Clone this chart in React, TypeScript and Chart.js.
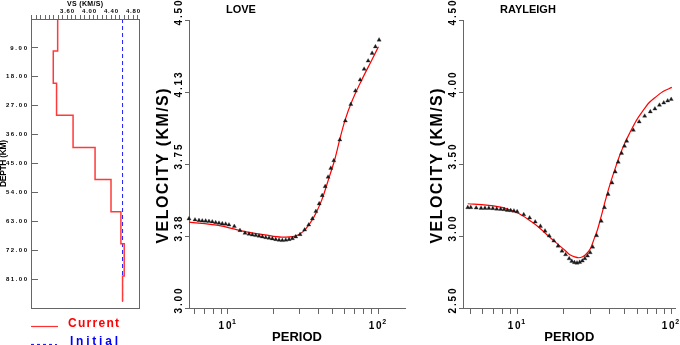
import React, { useEffect, useRef } from "react";
import { Chart, registerables } from "chart.js";

Chart.register(...registerables);

// ---------------- DATA ----------------
// Shear-velocity model (left panel)
const layerTop = [0, 10, 20, 30, 40, 50, 60, 70, 80];
const layerBottom = [10, 20, 30, 40, 50, 60, 70, 80, 88];
const currentVs = [3.43, 3.35, 3.41, 3.71, 4.11, 4.4, 4.58, 4.64, 4.61];
const initialDepth = [0, 88];
const initialVs = [4.61, 4.61];
const vsTicks = [2.96, 3.04, 3.12, 3.2, 3.28, 3.36, 3.44, 3.52, 3.6, 3.68, 3.76, 3.84, 3.92, 4.0, 4.08, 4.16, 4.24, 4.32, 4.4, 4.48, 4.56, 4.64, 4.72, 4.8, 4.88];
const vsLabelValues = [3.6, 4.0, 4.4, 4.8];
const vsLabels = ["3.60", "4.00", "4.40", "4.80"];
const depthTicks = [9, 18, 27, 36, 45, 54, 63, 72, 81];
const depthLabels = ["9.00", "18.00", "27.00", "36.00", "45.00", "54.00", "63.00", "72.00", "81.00"];

// LOVE dispersion
const lovePeriodObs = [5.5, 6.03, 6.41, 6.74, 7.1, 7.47, 7.86, 8.28, 8.71, 9.16, 9.65, 10.15, 11.02, 12.02, 12.98, 13.8, 14.52, 15.3, 16.1, 16.94, 17.84, 18.77, 19.74, 20.8, 21.88, 23.01, 24.25, 25.51, 26.84, 28.27, 30.2, 32.4, 34.5, 36.5, 38.5, 40.5, 42.4, 44.4, 46.4, 48.4, 50.7, 55.6, 60.5, 65.8, 70.6, 75.9, 80.7, 85.8, 91.2, 95.9, 101.5];
const loveVelObs = [3.465, 3.459, 3.456, 3.454, 3.453, 3.451, 3.449, 3.445, 3.442, 3.439, 3.437, 3.433, 3.425, 3.404, 3.39, 3.385, 3.381, 3.378, 3.375, 3.371, 3.367, 3.364, 3.361, 3.357, 3.354, 3.352, 3.354, 3.357, 3.362, 3.371, 3.383, 3.407, 3.433, 3.465, 3.503, 3.543, 3.586, 3.633, 3.682, 3.728, 3.768, 3.876, 3.975, 4.061, 4.131, 4.188, 4.244, 4.287, 4.327, 4.361, 4.396];
const lovePeriodFit = [5.5, 8.62, 12.34, 17.65, 22.8, 27.97, 31.77, 35.22, 38.02, 42.15, 46.64, 51.7, 55.8, 60.3, 66.8, 77.8, 90.8, 100.5];
const loveVelFit = [3.447, 3.43, 3.402, 3.381, 3.369, 3.374, 3.399, 3.442, 3.485, 3.563, 3.668, 3.78, 3.885, 3.98, 4.075, 4.188, 4.292, 4.361];
const loveYTicks = [3.0, 3.375, 3.75, 4.125, 4.5];
const loveYLabels = ["3.00", "3.38", "3.75", "4.13", "4.50"];

// RAYLEIGH dispersion
const rayPeriodObs = [4.78, 5.0, 5.42, 5.83, 6.18, 6.55, 6.95, 7.37, 7.82, 8.23, 8.64, 9.08, 9.53, 10.0, 11.03, 12.05, 13.1, 14.16, 15.17, 16.15, 17.31, 18.44, 19.55, 20.63, 21.76, 22.63, 23.55, 24.47, 25.46, 26.49, 27.51, 28.62, 29.78, 30.93, 32.81, 35.16, 36.89, 38.95, 41.3, 43.35, 45.3, 47.62, 49.76, 51.46, 56.77, 62.0, 67.3, 73.2, 78.4, 83.9, 89.5, 94.9, 100.0];
const rayVelObs = [3.198, 3.198, 3.195, 3.193, 3.193, 3.193, 3.191, 3.188, 3.186, 3.184, 3.179, 3.177, 3.174, 3.169, 3.149, 3.126, 3.098, 3.068, 3.035, 3.001, 2.966, 2.931, 2.896, 2.871, 2.843, 2.825, 2.816, 2.813, 2.818, 2.827, 2.843, 2.862, 2.885, 2.924, 3.003, 3.103, 3.198, 3.29, 3.369, 3.445, 3.513, 3.575, 3.624, 3.659, 3.735, 3.793, 3.833, 3.863, 3.883, 3.909, 3.925, 3.939, 3.949];
const rayPeriodFit = [4.78, 6.32, 7.64, 8.47, 10.25, 12.4, 13.75, 15.23, 17.64, 20.42, 21.98, 23.65, 25.08, 26.6, 27.8, 29.91, 31.72, 33.15, 35.16, 37.28, 40.1, 43.15, 46.44, 49.97, 53.8, 59.6, 66.0, 72.1, 79.9, 88.5, 101.0];
const rayVelFit = [3.224, 3.214, 3.202, 3.191, 3.156, 3.099, 3.063, 3.019, 2.959, 2.901, 2.87, 2.855, 2.849, 2.856, 2.87, 2.913, 2.985, 3.04, 3.138, 3.242, 3.36, 3.464, 3.562, 3.645, 3.715, 3.805, 3.874, 3.927, 3.968, 4.003, 4.032];
const rayYTicks = [2.5, 3.0, 3.5, 4.0, 4.5];
const rayYLabels = ["2.50", "3.00", "3.50", "4.00", "4.50"];

const periodTicks = [5, 6, 7, 8, 9, 10, 20, 30, 40, 50, 60, 70, 80, 90, 100];
const periodLabelValues = [10, 100];
const periodLabelSup = ["1", "2"];

// ---------------- STYLE ----------------
const FONT = '"Liberation Sans", Arial, Helvetica, sans-serif';
const AXIS = "#666666";

function drawFit(ctx: CanvasRenderingContext2D, text: string, x: number, y: number, target: number, align: "left" | "center" | "right", font: string) {
  ctx.font = font;
  (ctx as any).letterSpacing = "0px";
  const w = ctx.measureText(text).width;
  const n = text.length;
  const s = n > 1 ? (target - w) / (n - 1) : 0;
  const start = align === "left" ? x : align === "center" ? x - target / 2 : x - target;
  (ctx as any).letterSpacing = s + "px";
  ctx.textAlign = "left";
  ctx.fillText(text, start, y);
  (ctx as any).letterSpacing = "0px";
}

function drawRot(ctx: CanvasRenderingContext2D, text: string, cx: number, cy: number, target: number, font: string) {
  ctx.save();
  ctx.translate(cx, cy);
  ctx.rotate(-Math.PI / 2);
  ctx.textBaseline = "middle";
  drawFit(ctx, text, 0, 0, target, "center", font);
  ctx.restore();
}

function pts(xs: number[], ys: number[]) {
  return xs.map((x, i) => ({ x, y: ys[i] }));
}

function makeModelChart(canvas: HTMLCanvasElement) {
  const current: { x: number; y: number }[] = [];
  layerTop.forEach((t, i) => {
    current.push({ x: currentVs[i], y: t });
    current.push({ x: currentVs[i], y: layerBottom[i] });
  });
  const initial = pts(initialVs, initialDepth);

  const textPlugin = {
    id: "modelText",
    afterDraw(chart: any) {
      const { ctx, chartArea: a, scales } = chart;
      ctx.save();
      ctx.strokeStyle = AXIS;
      ctx.lineWidth = 1;
      ctx.strokeRect(Math.round(a.left) + 0.5, Math.round(a.top) + 0.5, Math.round(a.right - a.left), Math.round(a.bottom - a.top));
      ctx.fillStyle = "#000";
      ctx.textBaseline = "middle";
      drawFit(ctx, "VS (KM/S)", (a.left + a.right) / 2, 4, 36, "center", `bold 7px ${FONT}`);
      vsLabelValues.forEach((v, i) => {
        drawFit(ctx, vsLabels[i], scales.x.getPixelForValue(v), 11.5, 14, "center", `bold 6px ${FONT}`);
      });
      depthTicks.forEach((d, i) => {
        const t = depthLabels[i];
        drawFit(ctx, t, 27, scales.y.getPixelForValue(d), 4.2 * t.length, "right", `bold 6px ${FONT}`);
      });
      drawRot(ctx, "DEPTH (KM)", 4, (a.top + a.bottom) / 2, 47, `bold 8.5px ${FONT}`);
      // legend
      ctx.lineWidth = 1.2;
      ctx.strokeStyle = "#ff3030";
      ctx.beginPath();
      ctx.moveTo(a.left, 326.5);
      ctx.lineTo(a.left + 27, 326.5);
      ctx.stroke();
      ctx.strokeStyle = "#2020ff";
      ctx.setLineDash([3, 3]);
      ctx.beginPath();
      ctx.moveTo(a.left, 344.5);
      ctx.lineTo(a.left + 26, 344.5);
      ctx.stroke();
      ctx.setLineDash([]);
      ctx.textBaseline = "alphabetic";
      ctx.fillStyle = "#ff0000";
      drawFit(ctx, "Current", 68, 326.5, 51, "left", `bold 12px ${FONT}`);
      ctx.fillStyle = "#0000ff";
      drawFit(ctx, "Initial", 70, 344.5, 48, "left", `bold 12px ${FONT}`);
      ctx.restore();
    },
  };

  return new Chart(canvas, {
    type: "scatter",
    data: {
      datasets: [
        { data: current, showLine: true, borderColor: "#ff3a3a", borderWidth: 1.5, pointRadius: 0, tension: 0, clip: false } as any,
        { data: initial, showLine: true, borderColor: "#2020ff", borderWidth: 1, borderDash: [4, 3], pointRadius: 0, tension: 0, clip: false } as any,
      ],
    },
    options: {
      animation: false,
      responsive: false,
      events: [],
      layout: { padding: { left: 0, right: 6, top: 0, bottom: 37 } },
      plugins: { legend: { display: false }, tooltip: { enabled: false }, title: { display: false } },
      scales: {
        x: {
          type: "linear",
          position: "top",
          min: 2.945,
          max: 4.909,
          afterBuildTicks: (s: any) => { s.ticks = vsTicks.map((v) => ({ value: v })); },
          afterFit: (s: any) => { s.height = 19; },
          ticks: { display: false },
          grid: { drawOnChartArea: false, drawTicks: true, tickLength: 4, color: AXIS },
          border: { display: true, color: AXIS, width: 1 },
        },
        y: {
          type: "linear",
          reverse: true,
          min: 0,
          max: 90,
          afterBuildTicks: (s: any) => { s.ticks = depthTicks.map((v) => ({ value: v })); },
          afterFit: (s: any) => { s.width = 31; },
          ticks: { display: false },
          grid: { drawOnChartArea: false, drawTicks: true, tickLength: -7, color: AXIS },
          border: { display: true, color: AXIS, width: 1 },
        },
      },
    } as any,
    plugins: [textPlugin],
  });
}

interface DispOpts {
  title: string;
  xMin: number;
  xMax: number;
  yMin: number;
  yMax: number;
  yTicks: number[];
  yLabels: string[];
  obsP: number[];
  obsV: number[];
  fitP: number[];
  fitV: number[];
  yWidth: number;
  padRight: number;
}

function makeDispChart(canvas: HTMLCanvasElement, o: DispOpts) {
  const textPlugin = {
    id: "dispText",
    afterDraw(chart: any) {
      const { ctx, chartArea: a, scales } = chart;
      ctx.save();
      ctx.fillStyle = "#000";
      ctx.textBaseline = "middle";
      ctx.font = `bold 11px ${FONT}`;
      ctx.textAlign = "left";
      ctx.fillText(o.title, a.left + 37, 9.5);
      o.yTicks.forEach((v, i) => {
        drawRot(ctx, o.yLabels[i], a.left - 10, scales.y.getPixelForValue(v) - 7, 25, `bold 10px ${FONT}`);
      });
      drawRot(ctx, "VELOCITY (KM/S)", a.left - 25, 166, 155, `bold 16px ${FONT}`);
      periodLabelValues.forEach((v, i) => {
        const px = scales.x.getPixelForValue(v);
        ctx.textBaseline = "middle";
        drawFit(ctx, "10", px - 9.5, 326.5, 13, "left", `bold 10px ${FONT}`);
        ctx.font = `bold 7px ${FONT}`;
        ctx.textAlign = "left";
        ctx.fillText(periodLabelSup[i], px + 4, 322.5);
      });
      drawFit(ctx, "PERIOD", (a.left + a.right) / 2, 337.5, 50, "center", `bold 13px ${FONT}`);
      ctx.restore();
    },
  };

  return new Chart(canvas, {
    type: "scatter",
    data: {
      datasets: [
        { data: pts(o.obsP, o.obsV), pointStyle: "triangle", pointRadius: 2.4, backgroundColor: "#1a1a1a", borderColor: "#1a1a1a", borderWidth: 0.3, showLine: false, clip: false } as any,
        { data: pts(o.fitP, o.fitV), showLine: true, borderColor: "#ff0000", borderWidth: 1.2, pointRadius: 0, cubicInterpolationMode: "monotone", clip: false } as any,
      ],
    },
    options: {
      animation: false,
      responsive: false,
      events: [],
      layout: { padding: { left: 0, right: o.padRight, top: 20, bottom: 0 } },
      plugins: { legend: { display: false }, tooltip: { enabled: false }, title: { display: false } },
      scales: {
        x: {
          type: "logarithmic",
          position: "bottom",
          min: o.xMin,
          max: o.xMax,
          afterBuildTicks: (s: any) => { s.ticks = periodTicks.filter((v) => v >= o.xMin && v <= o.xMax).map((v) => ({ value: v })); },
          afterFit: (s: any) => { s.height = 37; },
          ticks: { display: false },
          grid: { drawOnChartArea: false, drawTicks: true, tickLength: 6, color: AXIS },
          border: { display: true, color: AXIS, width: 1 },
        },
        y: {
          type: "linear",
          position: "left",
          min: o.yMin,
          max: o.yMax,
          afterBuildTicks: (s: any) => { s.ticks = o.yTicks.map((v) => ({ value: v })); },
          afterFit: (s: any) => { s.width = o.yWidth; },
          ticks: { display: false },
          grid: { drawOnChartArea: false, drawTicks: true, tickLength: 4, color: AXIS },
          border: { display: true, color: AXIS, width: 1 },
        },
      },
    } as any,
    plugins: [textPlugin],
  });
}

export default function App() {
  const leftRef = useRef<HTMLCanvasElement>(null);
  const loveRef = useRef<HTMLCanvasElement>(null);
  const rayRef = useRef<HTMLCanvasElement>(null);

  useEffect(() => {
    const charts: Chart[] = [];
    if (leftRef.current) charts.push(makeModelChart(leftRef.current));
    if (loveRef.current)
      charts.push(
        makeDispChart(loveRef.current, {
          title: "LOVE",
          xMin: 5.5,
          xMax: 151,
          yMin: 3.0,
          yMax: 4.5,
          yTicks: loveYTicks,
          yLabels: loveYLabels,
          obsP: lovePeriodObs,
          obsV: loveVelObs,
          fitP: lovePeriodFit,
          fitV: loveVelFit,
          yWidth: 44,
          padRight: 5,
        })
      );
    if (rayRef.current)
      charts.push(
        makeDispChart(rayRef.current, {
          title: "RAYLEIGH",
          xMin: 4.45,
          xMax: 107,
          yMin: 2.5,
          yMax: 4.5,
          yTicks: rayYTicks,
          yLabels: rayYLabels,
          obsP: rayPeriodObs,
          obsV: rayVelObs,
          fitP: rayPeriodFit,
          fitV: rayVelFit,
          yWidth: 53,
          padRight: 0,
        })
      );
    return () => charts.forEach((c) => c.destroy());
  }, []);

  return (
    <div style={{ position: "fixed", left: 0, top: 0, width: 680, height: 345, background: "#fff", overflow: "hidden" }}>
      <canvas ref={leftRef} width={145} height={345} style={{ position: "absolute", left: 0, top: 0, width: 145, height: 345 }} />
      <canvas ref={loveRef} width={265} height={345} style={{ position: "absolute", left: 145, top: 0, width: 265, height: 345 }} />
      <canvas ref={rayRef} width={270} height={345} style={{ position: "absolute", left: 410, top: 0, width: 270, height: 345 }} />
    </div>
  );
}
